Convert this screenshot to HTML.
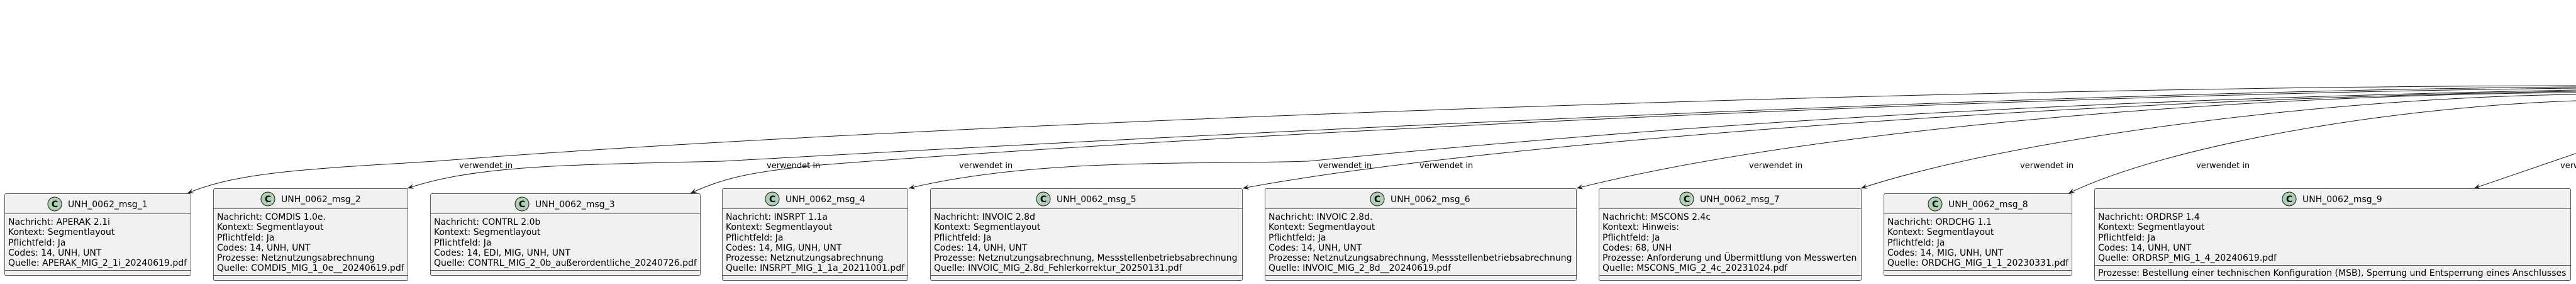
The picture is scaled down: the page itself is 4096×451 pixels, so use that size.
<!DOCTYPE html>
<html><head><meta charset="utf-8"><style>
html,body{margin:0;padding:0;background:#fff;}
svg{display:block;}
text{font-family:"DejaVu Sans","Liberation Sans",sans-serif;fill:#000;}
.a{font-size:14px;}
.t{font-size:14px;}
.l{font-size:13px;}
.b{fill:#F1F1F1;stroke:#5a5a5a;stroke-width:1;}
.d{stroke:#5a5a5a;stroke-width:1;}
.e{fill:none;stroke:#181818;stroke-width:1;}
.c{fill:#ADD1B2;stroke:#181818;stroke-width:1;}
.cl{font-size:14px;font-weight:bold;}
</style></head><body>
<svg width="4096" height="451" viewBox="0 0 4096 451" xmlns="http://www.w3.org/2000/svg">
<defs>
<marker id="ar" markerWidth="12" markerHeight="10" refX="10" refY="4" orient="auto" markerUnits="userSpaceOnUse">
<path d="M0,0 L10,4 L0,8 L4,4 Z" fill="#181818"/>
</marker>
</defs>
<!-- edges -->
<path class="e" marker-end="url(#ar)" d="M4096,136 C3000,138 1400,200 692,256 C500,268 380,272 298,307"/>
<path class="e" marker-end="url(#ar)" d="M4096,138 C3200,145 1700,225 1149,256 C900,262 760,262 648,299"/>
<path class="e" marker-end="url(#ar)" d="M4096,140 C3200,150 1900,215 1305,262 C1200,272 1150,282 1098,307"/>
<path class="e" marker-end="url(#ar)" d="M4096,143 C3200,160 2600,205 2080,256 C1900,262 1650,250 1445,299"/>
<path class="e" marker-end="url(#ar)" d="M4096,145 C3400,155 2400,220 1976,299"/>
<path class="e" marker-end="url(#ar)" d="M4096,147 C3600,150 2900,200 2507,299"/>
<path class="e" marker-end="url(#ar)" d="M4096,150 C3700,155 3200,220 2959,299"/>
<path class="e" marker-end="url(#ar)" d="M4096,160 C3800,170 3450,230 3289,307"/>
<path class="e" marker-end="url(#ar)" d="M4130,232 L3934,299"/>
<!-- labels -->
<g class="l">
<text x="730" y="267">verwendet in</text>
<text x="1219" y="267">verwendet in</text>
<text x="1525" y="267">verwendet in</text>
<text x="2096" y="267">verwendet in</text>
<text x="2257" y="267">verwendet in</text>
<text x="2781" y="267">verwendet in</text>
<text x="3212" y="267">verwendet in</text>
<text x="3492" y="267">verwendet in</text>
<text x="4071" y="267">verwendet in</text>
</g>

<!-- box1 -->
<rect class="b" x="7.5" y="307.5" width="296" height="130" rx="2.5"/>
<line class="d" x1="7.5" y1="339.5" x2="303.5" y2="339.5"/>
<line class="d" x1="7.5" y1="429.5" x2="303.5" y2="429.5"/>
<circle class="c" cx="87" cy="324" r="11"/><text class="cl" x="82" y="329">C</text>
<text class="t" x="108" y="329">UNH_0062_msg_1</text>
<g class="a">
<text x="13" y="357">Nachricht: APERAK 2.1i</text>
<text x="13" y="373">Kontext: Segmentlayout</text>
<text x="13" y="390">Pflichtfeld: Ja</text>
<text x="13" y="406">Codes: 14, UNH, UNT</text>
<text x="13" y="422">Quelle: APERAK_MIG_2_1i_20240619.pdf</text>
</g>

<!-- box2 -->
<rect class="b" x="339.5" y="299.5" width="309" height="146" rx="2.5"/>
<line class="d" x1="339.5" y1="331.5" x2="648.5" y2="331.5"/>
<line class="d" x1="339.5" y1="437.5" x2="648.5" y2="437.5"/>
<circle class="c" cx="426" cy="316" r="11"/><text class="cl" x="421" y="321">C</text>
<text class="t" x="447" y="321">UNH_0062_msg_2</text>
<g class="a">
<text x="345" y="349">Nachricht: COMDIS 1.0e.</text>
<text x="345" y="365">Kontext: Segmentlayout</text>
<text x="345" y="382">Pflichtfeld: Ja</text>
<text x="345" y="398">Codes: 14, UNH, UNT</text>
<text x="345" y="414">Prozesse: Netznutzungsabrechnung</text>
<text x="345" y="430">Quelle: COMDIS_MIG_1_0e__20240619.pdf</text>
</g>

<!-- box3 -->
<rect class="b" x="684.5" y="307.5" width="429" height="130" rx="2.5"/>
<line class="d" x1="684.5" y1="339.5" x2="1113.5" y2="339.5"/>
<line class="d" x1="684.5" y1="429.5" x2="1113.5" y2="429.5"/>
<circle class="c" cx="830" cy="324" r="11"/><text class="cl" x="825" y="329">C</text>
<text class="t" x="851" y="329">UNH_0062_msg_3</text>
<g class="a">
<text x="690" y="357">Nachricht: CONTRL 2.0b</text>
<text x="690" y="373">Kontext: Segmentlayout</text>
<text x="690" y="390">Pflichtfeld: Ja</text>
<text x="690" y="406">Codes: 14, EDI, MIG, UNH, UNT</text>
<text x="690" y="422">Quelle: CONTRL_MIG_2_0b_außerordentliche_20240726.pdf</text>
</g>

<!-- box4 -->
<rect class="b" x="1148.5" y="299.5" width="295" height="146" rx="2.5"/>
<line class="d" x1="1148.5" y1="331.5" x2="1443.5" y2="331.5"/>
<line class="d" x1="1148.5" y1="437.5" x2="1443.5" y2="437.5"/>
<circle class="c" cx="1228" cy="316" r="11"/><text class="cl" x="1223" y="321">C</text>
<text class="t" x="1249" y="321">UNH_0062_msg_4</text>
<g class="a">
<text x="1154" y="349">Nachricht: INSRPT 1.1a</text>
<text x="1154" y="365">Kontext: Segmentlayout</text>
<text x="1154" y="382">Pflichtfeld: Ja</text>
<text x="1154" y="398">Codes: 14, MIG, UNH, UNT</text>
<text x="1154" y="414">Prozesse: Netznutzungsabrechnung</text>
<text x="1154" y="430">Quelle: INSRPT_MIG_1_1a_20211001.pdf</text>
</g>

<!-- box5 -->
<rect class="b" x="1479.5" y="299.5" width="496" height="146" rx="2.5"/>
<line class="d" x1="1479.5" y1="331.5" x2="1975.5" y2="331.5"/>
<line class="d" x1="1479.5" y1="437.5" x2="1975.5" y2="437.5"/>
<circle class="c" cx="1659" cy="316" r="11"/><text class="cl" x="1654" y="321">C</text>
<text class="t" x="1680" y="321">UNH_0062_msg_5</text>
<g class="a">
<text x="1485" y="349">Nachricht: INVOIC 2.8d</text>
<text x="1485" y="365">Kontext: Segmentlayout</text>
<text x="1485" y="382">Pflichtfeld: Ja</text>
<text x="1485" y="398">Codes: 14, UNH, UNT</text>
<text x="1485" y="414">Prozesse: Netznutzungsabrechnung, Messstellenbetriebsabrechnung</text>
<text x="1485" y="430">Quelle: INVOIC_MIG_2.8d_Fehlerkorrektur_20250131.pdf</text>
</g>

<!-- box6 -->
<rect class="b" x="2011.5" y="299.5" width="495" height="146" rx="2.5"/>
<line class="d" x1="2011.5" y1="331.5" x2="2506.5" y2="331.5"/>
<line class="d" x1="2011.5" y1="437.5" x2="2506.5" y2="437.5"/>
<circle class="c" cx="2190" cy="316" r="11"/><text class="cl" x="2185" y="321">C</text>
<text class="t" x="2211" y="321">UNH_0062_msg_6</text>
<g class="a">
<text x="2017" y="349">Nachricht: INVOIC 2.8d.</text>
<text x="2017" y="365">Kontext: Segmentlayout</text>
<text x="2017" y="382">Pflichtfeld: Ja</text>
<text x="2017" y="398">Codes: 14, UNH, UNT</text>
<text x="2017" y="414">Prozesse: Netznutzungsabrechnung, Messstellenbetriebsabrechnung</text>
<text x="2017" y="430">Quelle: INVOIC_MIG_2_8d__20240619.pdf</text>
</g>

<!-- box7 -->
<rect class="b" x="2542.5" y="299.5" width="417" height="146" rx="2.5"/>
<line class="d" x1="2542.5" y1="331.5" x2="2959.5" y2="331.5"/>
<line class="d" x1="2542.5" y1="437.5" x2="2959.5" y2="437.5"/>
<circle class="c" cx="2682" cy="316" r="11"/><text class="cl" x="2677" y="321">C</text>
<text class="t" x="2703" y="321">UNH_0062_msg_7</text>
<g class="a">
<text x="2548" y="349">Nachricht: MSCONS 2.4c</text>
<text x="2548" y="365">Kontext: Hinweis:</text>
<text x="2548" y="382">Pflichtfeld: Ja</text>
<text x="2548" y="398">Codes: 68, UNH</text>
<text x="2548" y="414">Prozesse: Anforderung und Übermittlung von Messwerten</text>
<text x="2548" y="430">Quelle: MSCONS_MIG_2_4c_20231024.pdf</text>
</g>

<!-- box8 -->
<rect class="b" x="2995.5" y="307.5" width="299" height="130" rx="2.5"/>
<line class="d" x1="2995.5" y1="339.5" x2="3294.5" y2="339.5"/>
<line class="d" x1="2995.5" y1="429.5" x2="3294.5" y2="429.5"/>
<circle class="c" cx="3077" cy="324" r="11"/><text class="cl" x="3072" y="329">C</text>
<text class="t" x="3098" y="329">UNH_0062_msg_8</text>
<g class="a">
<text x="3001" y="357">Nachricht: ORDCHG 1.1</text>
<text x="3001" y="373">Kontext: Segmentlayout</text>
<text x="3001" y="390">Pflichtfeld: Ja</text>
<text x="3001" y="406">Codes: 14, MIG, UNH, UNT</text>
<text x="3001" y="422">Quelle: ORDCHG_MIG_1_1_20230331.pdf</text>
</g>

<!-- box9 -->
<rect class="b" x="3330.5" y="299.5" width="757" height="146" rx="2.5"/>
<line class="d" x1="3330.5" y1="331.5" x2="4087.5" y2="331.5"/>
<line class="d" x1="3330.5" y1="421.5" x2="4087.5" y2="421.5"/>
<circle class="c" cx="3640" cy="316" r="11"/><text class="cl" x="3635" y="321">C</text>
<text class="t" x="3661" y="321">UNH_0062_msg_9</text>
<g class="a">
<text x="3336" y="349">Nachricht: ORDRSP 1.4</text>
<text x="3336" y="365">Kontext: Segmentlayout</text>
<text x="3336" y="382">Pflichtfeld: Ja</text>
<text x="3336" y="398">Codes: 14, UNH, UNT</text>
<text x="3336" y="414">Quelle: ORDRSP_MIG_1_4_20240619.pdf</text>
<text x="3336" y="438">Prozesse: Bestellung einer technischen Konfiguration (MSB), Sperrung und Entsperrung eines Anschlusses</text>
</g>
</svg>
</body></html>
